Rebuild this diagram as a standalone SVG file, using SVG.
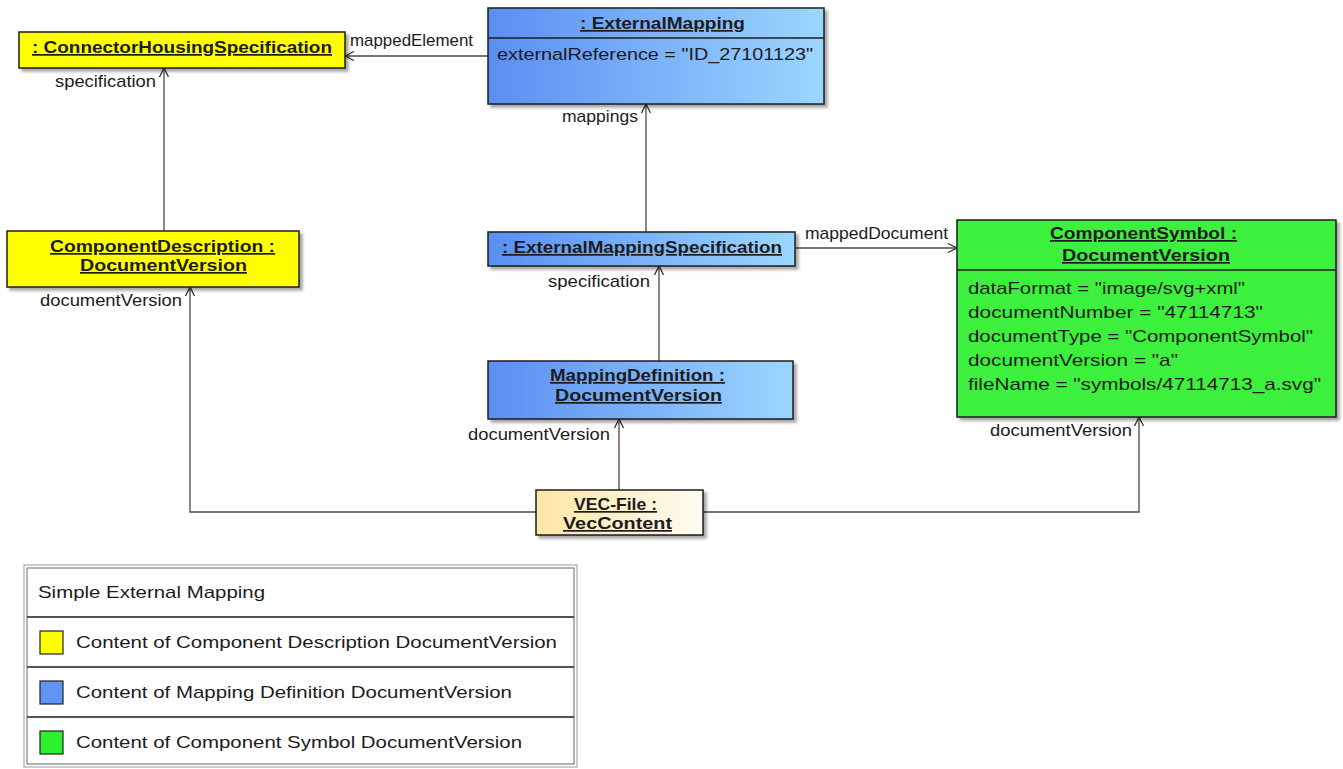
<svg xmlns="http://www.w3.org/2000/svg" width="1343" height="769" viewBox="0 0 1343 769">
<defs>
<linearGradient id="gBlue" x1="0" y1="0" x2="1" y2="0"><stop offset="0" stop-color="#5a8ef2"/><stop offset="1" stop-color="#9cd6ff"/></linearGradient>
<linearGradient id="gVec" x1="0" y1="0" x2="1" y2="0"><stop offset="0" stop-color="#fde6a4"/><stop offset="1" stop-color="#fffbf2"/></linearGradient>
<filter id="sh" x="-5%" y="-5%" width="115%" height="130%"><feDropShadow dx="3" dy="3" stdDeviation="1.5" flood-color="#000" flood-opacity="0.35"/></filter>
<marker id="arr" markerUnits="userSpaceOnUse" markerWidth="14" markerHeight="14" viewBox="-1 -7 14 14" refX="10" refY="0" orient="auto"><path d="M1,-4.5 L10,0 L1,4.5" fill="none" stroke="#333" stroke-width="1.3"/></marker>
<style>
text{font-family:"Liberation Sans",Arial,sans-serif;font-size:17px;fill:#1c1c1c}
.t{font-weight:bold;text-decoration:underline}
.box{stroke:#1e1e1e;stroke-width:1.5;filter:url(#sh)}
.div{stroke:#1e1e1e;stroke-width:1.5}
.con{fill:none;stroke:#4a4a4a;stroke-width:1.3}
.lg{fill:none;stroke:#555;stroke-width:2}
</style>
</defs>
<rect width="1343" height="769" fill="#fff"/>

<g id="connectors">
<path class="con" d="M488,56 H345" marker-end="url(#arr)"/>
<path class="con" d="M164,231 V68" marker-end="url(#arr)"/>
<path class="con" d="M646,232 V104" marker-end="url(#arr)"/>
<path class="con" d="M795,248 H957" marker-end="url(#arr)"/>
<path class="con" d="M659,361 V266" marker-end="url(#arr)"/>
<path class="con" d="M619,490 V419" marker-end="url(#arr)"/>
<path class="con" d="M536,512 H190 V287" marker-end="url(#arr)"/>
<path class="con" d="M703,512 H1139 V417" marker-end="url(#arr)"/>
<text x="350" y="46" textLength="123" lengthAdjust="spacingAndGlyphs">mappedElement</text>
<text x="55" y="87" textLength="101" lengthAdjust="spacingAndGlyphs">specification</text>
<text x="562" y="122" textLength="76" lengthAdjust="spacingAndGlyphs">mappings</text>
<text x="805" y="239" textLength="143" lengthAdjust="spacingAndGlyphs">mappedDocument</text>
<text x="548" y="287" textLength="102" lengthAdjust="spacingAndGlyphs">specification</text>
<text x="468" y="440" textLength="142" lengthAdjust="spacingAndGlyphs">documentVersion</text>
<text x="40" y="306" textLength="142" lengthAdjust="spacingAndGlyphs">documentVersion</text>
<text x="990" y="436" textLength="142" lengthAdjust="spacingAndGlyphs">documentVersion</text>
</g>

<g id="connectorHousingSpecification">
<rect class="box" x="19" y="32" width="326" height="36" fill="#ffff00"/>
<text class="t" x="32" y="53" textLength="300" lengthAdjust="spacingAndGlyphs">: ConnectorHousingSpecification</text>
</g>

<g id="externalMapping">
<rect class="box" x="488" y="8" width="336" height="96" fill="url(#gBlue)"/>
<line class="div" x1="488" y1="38" x2="824" y2="38"/>
<text class="t" x="580" y="29" textLength="165" lengthAdjust="spacingAndGlyphs">: ExternalMapping</text>
<text x="497" y="60" textLength="316" lengthAdjust="spacingAndGlyphs">externalReference = "ID_27101123"</text>
</g>

<g id="componentDescription">
<rect class="box" x="7" y="231" width="292" height="56" fill="#ffff00"/>
<text class="t" x="50" y="252" textLength="225" lengthAdjust="spacingAndGlyphs">ComponentDescription :</text>
<text class="t" x="80" y="271" textLength="167" lengthAdjust="spacingAndGlyphs">DocumentVersion</text>
</g>

<g id="externalMappingSpecification">
<rect class="box" x="488" y="232" width="307" height="34" fill="url(#gBlue)"/>
<text class="t" x="502" y="253" textLength="280" lengthAdjust="spacingAndGlyphs">: ExternalMappingSpecification</text>
</g>

<g id="mappingDefinition">
<rect class="box" x="488" y="361" width="305" height="58" fill="url(#gBlue)"/>
<text class="t" x="550" y="381" textLength="175" lengthAdjust="spacingAndGlyphs">MappingDefinition :</text>
<text class="t" x="555" y="401" textLength="167" lengthAdjust="spacingAndGlyphs">DocumentVersion</text>
</g>

<g id="componentSymbol">
<rect class="box" x="957" y="220" width="379" height="197" fill="#3cf03c"/>
<line class="div" x1="957" y1="270" x2="1336" y2="270"/>
<text class="t" x="1050" y="239" textLength="187" lengthAdjust="spacingAndGlyphs">ComponentSymbol :</text>
<text class="t" x="1062" y="261" textLength="168" lengthAdjust="spacingAndGlyphs">DocumentVersion</text>
<text x="968" y="294" textLength="277" lengthAdjust="spacingAndGlyphs">dataFormat = "image/svg+xml"</text>
<text x="968" y="318" textLength="295" lengthAdjust="spacingAndGlyphs">documentNumber = "47114713"</text>
<text x="968" y="342" textLength="345" lengthAdjust="spacingAndGlyphs">documentType = "ComponentSymbol"</text>
<text x="968" y="366" textLength="210" lengthAdjust="spacingAndGlyphs">documentVersion = "a"</text>
<text x="968" y="390" textLength="353" lengthAdjust="spacingAndGlyphs">fileName = "symbols/47114713_a.svg"</text>
</g>

<g id="vecFile">
<rect class="box" x="536" y="490" width="167" height="45" fill="url(#gVec)" stroke="#777"/>
<text class="t" x="574" y="510" textLength="83" lengthAdjust="spacingAndGlyphs">VEC-File :</text>
<text class="t" x="563" y="529" textLength="109" lengthAdjust="spacingAndGlyphs">VecContent</text>
</g>

<g id="legend">
<rect x="24" y="565" width="553" height="202" fill="#fff" stroke="#999" stroke-width="1"/>
<rect x="27" y="568" width="547" height="196" fill="none" stroke="#666" stroke-width="1"/>
<line class="lg" x1="27" y1="617" x2="574" y2="617"/>
<line class="lg" x1="27" y1="667" x2="574" y2="667"/>
<line class="lg" x1="27" y1="717" x2="574" y2="717"/>
<text x="38" y="598" textLength="227" lengthAdjust="spacingAndGlyphs">Simple External Mapping</text>
<rect x="40" y="631" width="23" height="23" fill="#ffff00" stroke="#222" stroke-width="1.2"/>
<text x="76" y="648" textLength="481" lengthAdjust="spacingAndGlyphs">Content of Component Description DocumentVersion</text>
<rect x="40" y="681" width="23" height="23" fill="#5f95f5" stroke="#222" stroke-width="1.2"/>
<text x="76" y="698" textLength="436" lengthAdjust="spacingAndGlyphs">Content of Mapping Definition DocumentVersion</text>
<rect x="40" y="731" width="23" height="23" fill="#2ef02e" stroke="#222" stroke-width="1.2"/>
<text x="76" y="748" textLength="446" lengthAdjust="spacingAndGlyphs">Content of Component Symbol DocumentVersion</text>
</g>
</svg>
